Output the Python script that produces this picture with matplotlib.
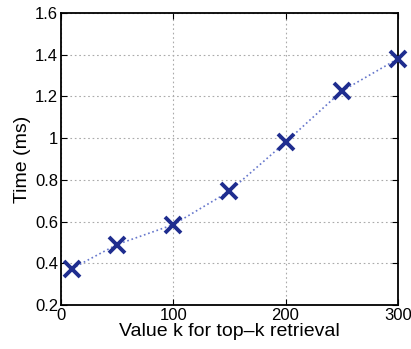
import matplotlib
matplotlib.use('Agg')
import matplotlib.pyplot as plt

plt.rcParams['font.family'] = ['Liberation Sans', 'DejaVu Sans']

k_values = [10, 50, 100, 150, 200, 250, 300]
time_ms = [0.375, 0.49, 0.585, 0.745, 0.98, 1.225, 1.38]
xticks = [0, 100, 200, 300]
yticks = [0.2, 0.4, 0.6, 0.8, 1.0, 1.2, 1.4, 1.6]
ytick_labels = ['0.2', '0.4', '0.6', '0.8', '1', '1.2', '1.4', '1.6']

fig = plt.figure(figsize=(4.11, 3.49), dpi=100)
ax = fig.add_axes([0.148, 0.126, 0.82, 0.837])

ax.plot(k_values, time_ms, color='#6677cc', linestyle=':', linewidth=1.2, zorder=2)
ax.plot(k_values, time_ms, linestyle='none', marker='x', markersize=11,
        markeredgewidth=2.8, color='#1f2d8f', clip_on=False, zorder=3)

ax.set_xlim(0, 300)
ax.set_ylim(0.2, 1.6)
ax.set_xticks(xticks)
ax.set_yticks(yticks)
ax.set_yticklabels(ytick_labels)
ax.grid(True, color='#aaaaaa', linestyle=(0, (1.5, 2.5)), linewidth=0.8)
ax.tick_params(direction='in', length=4, labelsize=12, pad=2, top=True, right=True)
for s in ax.spines.values():
    s.set_linewidth(1.3)

ax.set_xlabel('Value k for top\u2013k retrieval', size=14, labelpad=0)
ax.set_ylabel('Time (ms)', size=14, labelpad=3)

plt.savefig('out.png', dpi=100)
